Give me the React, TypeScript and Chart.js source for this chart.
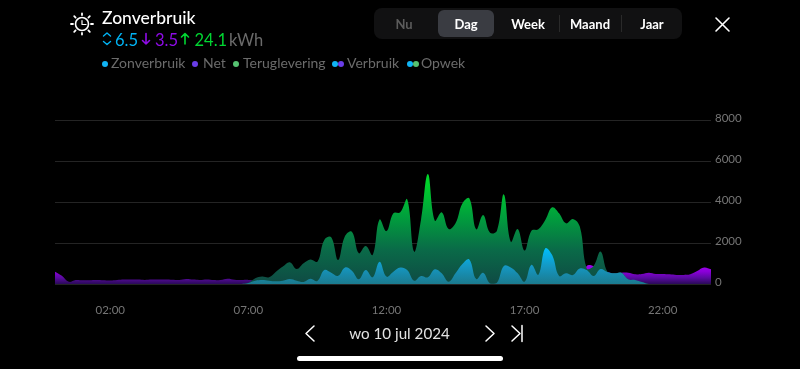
import React, { useEffect, useRef } from "react";
import { Chart, registerables } from "chart.js";

Chart.register(...registerables);

const FONT = "Lato, 'Open Sans', sans-serif";

const quarterHours: string[] = [];
for (let h = 0; h < 24; h++) {
  for (const m of ["00", "15", "30", "45"]) {
    quarterHours.push(`${String(h).padStart(2, "0")}:${m}`);
  }
}
const shownTicks = ["02:00", "07:00", "12:00", "17:00", "22:00"];
const yTicks = [0, 2000, 4000, 6000, 8000];

const zonverbruik = [
  0, 0, 0, 0, 0, 0, 0, 0, 0, 0, 0, 0, 0, 0, 0, 0, 0, 0, 0, 0, 0, 0, 0, 0, 0, 0, 0, 0,
  50, 160, 195, 160, 130, 160, 240, 160, 100, 260, 150, 680, 550, 400, 810, 650, 230, 680, 325, 1090,
  360, 600, 800, 680, 160, 390, 325, 715, 520, 110, 520, 975, 1200, 240, 550, 30, 65, 880,
  810, 520, 110, 940, 455, 1740, 1410, 390, 520, 440, 760, 680, 390, 730, 585, 520, 550, 230,
  195, 100, 0, 0, 0, 0, 0, 0, 0, 0, 0, 0,
];

const net = [
  600, 400, 110, 195, 185, 180, 190, 180, 170, 200, 220, 225, 215, 200, 215, 220, 215, 205, 195, 240, 215, 200, 225, 190, 200, 260, 210, 190,
  200, 160, 0, 0, 0, 0, 0, 0, 0, 0, 0, 0, 0, 0, 0, 0, 0, 0, 0, 0,
  0, 0, 0, 0, 0, 0, 0, 0, 0, 0, 0, 0, 0, 0, 0, 0, 0, 0,
  0, 0, 0, 0, 0, 0, 0, 0, 0, 0, 0, 880, 880, 730, 585, 520, 550, 550,
  470, 490, 550, 490, 490, 470, 440, 440, 470, 630, 800, 715,
];

const opwek = [
  0, 0, 0, 0, 0, 0, 0, 0, 0, 0, 0, 0, 0, 0, 0, 0, 0, 0, 0, 0, 0, 0, 0, 0, 0, 0, 0, 0,
  50, 275, 360, 325, 600, 850, 1060, 730, 1010, 1200, 1090, 2150, 2280, 1170, 2340, 2550, 1500, 1850, 1415, 3150,
  2580, 3450, 3500, 4130, 1580, 3120, 5370, 3090, 3500, 2680, 2960, 3930, 4180, 2670, 3370, 2500, 2600, 4370,
  2060, 2680, 1630, 2600, 2670, 3120, 3740, 3450, 2960, 3170, 2800, 760, 880, 1580, 600, 520, 550, 230,
  160, 80, 0, 0, 0, 0, 0, 0, 0, 0, 0, 0,
];

function gradient(top: number, stops: string[]) {
  return (ctx: any) => {
    const { chart } = ctx;
    const y = chart.scales.y;
    if (!chart.chartArea || !y) return stops[0];
    const y0 = y.getPixelForValue(top);
    const y1 = y.getPixelForValue(0);
    if (!Number.isFinite(y0) || !Number.isFinite(y1)) return stops[0];
    const g = chart.ctx.createLinearGradient(0, y0, 0, y1);
    stops.forEach((c, i) => g.addColorStop(i / (stops.length - 1), c));
    return g;
  };
}

function area(label: string, data: number[], background: any, order: number) {
  return {
    label,
    data,
    order,
    fill: "origin",
    backgroundColor: background,
    borderWidth: 0,
    pointRadius: 0,
    tension: 0.4,
  };
}

const Dot = ({ c, x, overlap }: { c: string; x: number; overlap?: string }) => (
  <>
    {overlap && <span style={{ position: "absolute", left: x + 6, top: 60.5, width: 6, height: 6, borderRadius: 3, background: overlap }} />}
    <span style={{ position: "absolute", left: x, top: 60.5, width: 6, height: 6, borderRadius: 3, background: c }} />
  </>
);

const T = ({ x, y, s, c, w, center, children }: any) => (
  <span
    style={{
      position: "absolute",
      left: x,
      top: y,
      fontSize: s,
      color: c,
      fontWeight: w || 400,
      lineHeight: "20px",
      marginTop: -10,
      whiteSpace: "nowrap",
      transform: center ? "translateX(-50%)" : undefined,
    }}
  >
    {children}
  </span>
);

export default function App() {
  const ref = useRef<HTMLCanvasElement>(null);
  useEffect(() => {
    document.body.style.margin = "0";
    document.body.style.background = "#000";
    const chart = new Chart(ref.current!, {
      type: "line",
      data: {
        labels: quarterHours,
        datasets: [
          area("Net", net, gradient(900, ["#a000f0", "#8a00d8", "#5a0aa0", "#2a0a58"]), 3) as any,
          area("Teruglevering", opwek, gradient(5000, ["#00d52a", "#00a03c", "#0a6a48", "#0f4a44"]), 2) as any,
          area("Zonverbruik", zonverbruik, gradient(1700, ["#00bdfb", "#1597c2", "#1b7a8e"]), 1) as any,
        ],
      },
      options: {
        responsive: false,
        animation: false,
        layout: { padding: { left: 55, top: 120, right: 0, bottom: 0 } },
        plugins: { legend: { display: false }, tooltip: { enabled: false } },
        scales: {
          x: {
            type: "category",
            offset: false,
            grid: { display: false },
            border: { display: false },
            afterFit: (s: any) => { s.height = 85; },
            ticks: {
              autoSkip: false,
              maxRotation: 0,
              padding: 11,
              color: "#757575",
              font: { family: FONT, size: 11.5 },
              callback(this: any, v: any) {
                const l = this.getLabelForValue(v);
                return shownTicks.includes(l) ? l : "";
              },
            },
          },
          y: {
            position: "right",
            min: 0,
            max: 8000,
            afterFit: (s: any) => { s.width = 89; },
            afterBuildTicks: (s: any) => { s.ticks = yTicks.map((value) => ({ value })); },
            grid: { color: "#242424", lineWidth: 1, drawTicks: false },
            border: { display: false },
            ticks: {
              padding: 4,
              color: "#757575",
              labelOffset: -1.5,
              font: { family: FONT, size: 11.5 },
              callback: (v: any) => String(v),
            },
          },
        },
      } as any,
    });
    chart.update();
    return () => chart.destroy();
  }, []);

  const stroke = { fill: "none", strokeLinecap: "round", strokeLinejoin: "round" } as const;
  return (
    <div style={{ position: "relative", width: 800, height: 369, background: "#000", overflow: "hidden", fontFamily: FONT }}>
      <canvas ref={ref} width={800} height={369} style={{ position: "absolute", left: 0, top: 0, display: "block" }} />

      <svg width={800} height={369} style={{ position: "absolute", left: 0, top: 0 }} {...stroke}>
        {/* sun with clock */}
        <g stroke="#fff" strokeWidth={1.6}>
          <circle cx={82} cy={24} r={6.5} />
          <path d="M82 20.5V24.5H86" strokeWidth={1.2} />
          <path d="M82 13.5v1.5M82 33v1.5M71 24h2M91 24h2M74.2 16.2l1.4 1.4M88.4 30.4l1.4 1.4M74.2 31.8l1.4-1.4M88.4 17.6l1.4-1.4" strokeWidth={1.8} />
        </g>
        {/* self-use chevrons */}
        <path d="M103.5 36l3.5-3 3.5 3M103.5 41.5l3.5 3 3.5-3" stroke="#00b4f5" strokeWidth={1.4} />
        {/* arrows */}
        <path d="M146 33.5v10.5M142.5 40.5l3.5 3.5 3.5-3.5" stroke="#8f0be8" strokeWidth={1.6} />
        <path d="M185 44v-10.5M181.5 37l3.5-3.5 3.5 3.5" stroke="#00d632" strokeWidth={1.6} />
        {/* close */}
        <path d="M716 18l13 13M729 18l-13 13" stroke="#fff" strokeWidth={1.6} />
        {/* date nav */}
        <path d="M314 326l-8 7.5 8 7.5" stroke="#fff" strokeWidth={1.5} />
        <path d="M486 326l8 7.5-8 7.5" stroke="#fff" strokeWidth={1.5} />
        <path d="M512 326l8 7.5-8 7.5M522 325.5v16" stroke="#fff" strokeWidth={1.5} />
      </svg>

      <T x={102} y={18} s={17.5} c="#fff" w={500}>Zonverbruik</T>
      <T x={115} y={40} s={16.5} c="#00b4f5">6.5</T>
      <T x={155} y={40} s={16.5} c="#8f0be8">3.5</T>
      <T x={194.5} y={40} s={16.5} c="#00d632">24.1</T>
      <T x={229} y={40} s={16.5} c="#6b6b6b">kWh</T>

      <Dot c="#10b4f5" x={101.5} />
      <T x={111} y={63} s={14} c="#6b6b6b">Zonverbruik</T>
      <Dot c="#6a3de8" x={192} />
      <T x={203} y={63} s={14} c="#6b6b6b">Net</T>
      <Dot c="#56c271" x={232.5} />
      <T x={243} y={63} s={14} c="#6b6b6b">Teruglevering</T>
      <Dot c="#10b4f5" x={332} overlap="#6a3de8" />
      <T x={347} y={63} s={14} c="#6b6b6b">Verbruik</T>
      <Dot c="#10b4f5" x={406.5} overlap="#56c271" />
      <T x={421} y={63} s={14} c="#6b6b6b">Opwek</T>

      <div style={{ position: "absolute", left: 374, top: 8, width: 308, height: 31, borderRadius: 8, background: "#111112" }} />
      <div style={{ position: "absolute", left: 438, top: 10, width: 56, height: 27, borderRadius: 6, background: "#3a3c42" }} />
      <div style={{ position: "absolute", left: 559, top: 15, width: 1, height: 17, background: "#2a2a2a" }} />
      <div style={{ position: "absolute", left: 621, top: 15, width: 1, height: 17, background: "#2a2a2a" }} />
      <T x={404} y={24} s={13} c="#5c5c5c" w={700} center>Nu</T>
      <T x={466} y={24} s={13} c="#fff" w={700} center>Dag</T>
      <T x={528} y={24} s={13} c="#fff" w={700} center>Week</T>
      <T x={590} y={24} s={13} c="#fff" w={700} center>Maand</T>
      <T x={652} y={24} s={13} c="#fff" w={700} center>Jaar</T>

      <T x={399.5} y={333} s={15.2} c="#e2e2e2" center>wo 10 jul 2024</T>
      <div style={{ position: "absolute", left: 297, top: 356, width: 206, height: 5, borderRadius: 3, background: "#fff" }} />
    </div>
  );
}
